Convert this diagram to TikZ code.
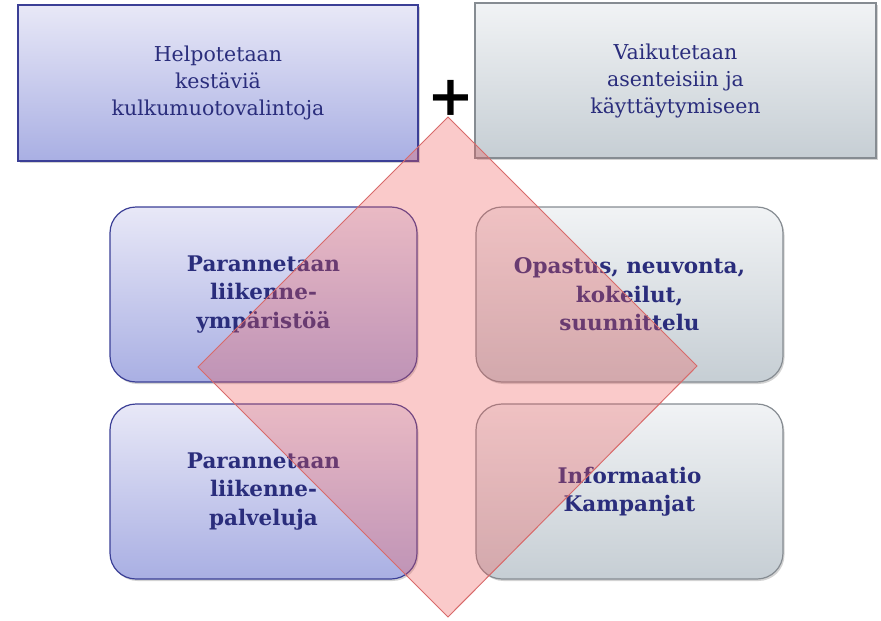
\documentclass[tikz,border=0pt]{standalone}
\usepackage{fontspec}
\setmainfont{DejaVu Serif}
\usetikzlibrary{shadows}

\definecolor{bluetop}{HTML}{E8E8F7}
\definecolor{bluebot}{HTML}{A9AFE3}
\definecolor{blueline}{HTML}{3B3F96}
\definecolor{graytop}{HTML}{F1F3F5}
\definecolor{graybot}{HTML}{C6CED4}
\definecolor{grayline}{HTML}{868C92}
\definecolor{inktext}{HTML}{2A2D7C}
\definecolor{diafill}{HTML}{EE5A5A}
\definecolor{dialine}{HTML}{D86A6A}

\tikzset{
    goalbox/.style={draw, line width=1.2pt, align=center, text=inktext,
        font=\fontsize{20.5}{27}\selectfont, inner sep=0pt,
        drop shadow={shadow xshift=1.5pt, shadow yshift=-2pt, opacity=0.35}},
    actbox/.style={goalbox, rounded corners=26pt,
        font=\fontsize{21.5}{28.5}\selectfont\bfseries},
    bluefill/.style={draw=blueline, top color=bluetop, bottom color=bluebot},
    grayfill/.style={draw=grayline, top color=graytop, bottom color=graybot},
}

\begin{document}
\begin{tikzpicture}[x=1pt, y=-1pt]
            \useasboundingbox (0,0) rectangle (881,621);

            \node[goalbox, bluefill, minimum width=400pt, minimum height=156pt] (helpo) at (218, 83)
                {Helpotetaan\\kestäviä\\kulkumuotovalintoja};
            \node[goalbox, grayfill, minimum width=401pt, minimum height=155pt] (vaiku) at (675.5, 80.5)
                {Vaikutetaan\\asenteisiin ja\\käyttäytymiseen};

            \node[actbox, bluefill, minimum width=307pt, minimum height=175pt] (ympa) at (263.5, 294.5)
                {Parannetaan\\liikenne-\\ympäristöä};
            \node[actbox, bluefill, minimum width=307pt, minimum height=175pt] (palv) at (263.5, 491.5)
                {Parannetaan\\liikenne-\\palveluja};
            \node[actbox, grayfill, minimum width=307pt, minimum height=175pt] (opas) at (629.5, 294.5)
                {Opastus, neuvonta,\\kokeilut,\\suunnittelu};
            \node[actbox, grayfill, minimum width=307pt, minimum height=175pt] (info) at (629.5, 491.5)
                {Informaatio\\Kampanjat};

            \node[font=\fontsize{56}{56}\selectfont\bfseries] (plus) at (451, 98) {+};

            % diamond over the boxes
            \coordinate (Dtop) at (448, 117);
            \coordinate (Dright) at (697, 366);
            \coordinate (Dbot) at (448, 617);
            \coordinate (Dleft) at (198, 367);
            \draw[dialine, line width=1pt, fill=diafill, fill opacity=0.32]
                (Dtop) -- (Dright) -- (Dbot) -- (Dleft) -- cycle;

        \end{tikzpicture}
\end{document}
